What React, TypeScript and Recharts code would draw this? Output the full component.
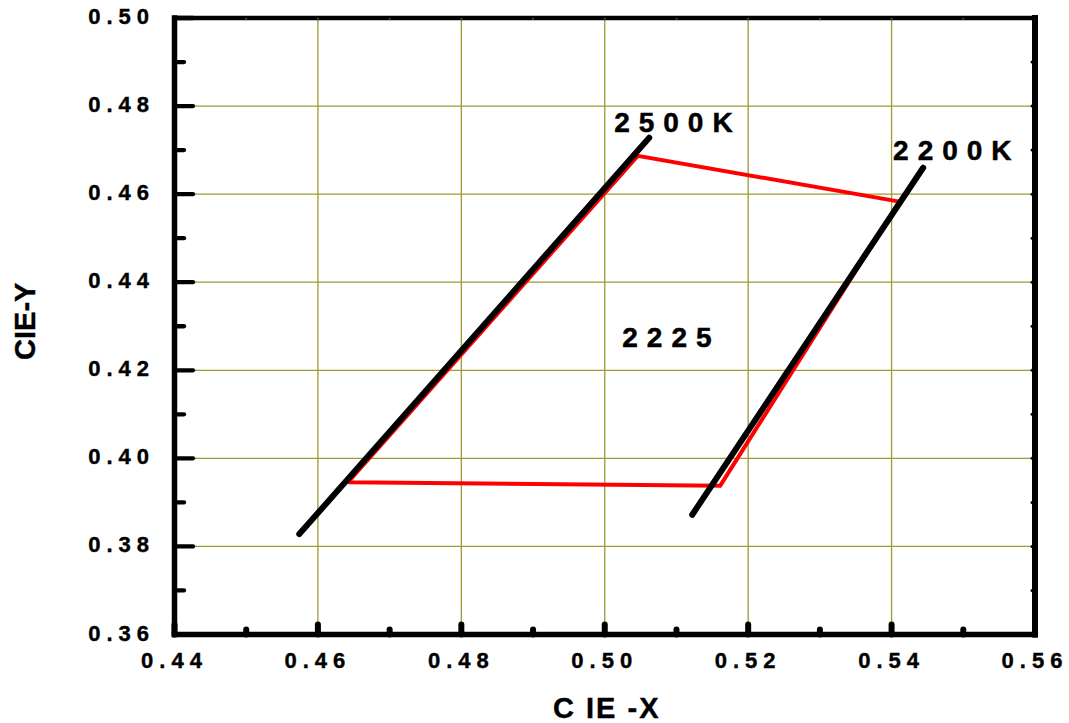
import React from 'react';
import { ComposedChart, Scatter, XAxis, YAxis, CartesianGrid } from 'recharts';

// ---- data ----
const xTicks = [0.44, 0.45, 0.46, 0.47, 0.48, 0.49, 0.5, 0.51, 0.52, 0.53, 0.54, 0.55, 0.56];
const yTicks = [0.36, 0.37, 0.38, 0.39, 0.4, 0.41, 0.42, 0.43, 0.44, 0.45, 0.46, 0.47, 0.48, 0.49, 0.5];
const xMajor = [0.44, 0.46, 0.48, 0.5, 0.52, 0.54, 0.56];
const yMajor = [0.36, 0.38, 0.4, 0.42, 0.44, 0.46, 0.48, 0.5];

const line2500K = [
  { x: 0.4574, y: 0.3828 },
  { x: 0.5062, y: 0.4728 },
];
const line2200K = [
  { x: 0.5122, y: 0.3872 },
  { x: 0.5444, y: 0.466 },
];
const redBoundary = [
  { x: 0.4642, y: 0.3946 },
  { x: 0.5046, y: 0.4687 },
  { x: 0.5411, y: 0.4583 },
  { x: 0.5161, y: 0.3938 },
  { x: 0.4642, y: 0.3946 },
];
const annotations = [
  { x: 0.5102, y: 0.4742, label: '2500K' },
  { x: 0.5491, y: 0.4678, label: '2200K' },
  { x: 0.5093, y: 0.4254, label: '2225' },
];

const FONT = '"Liberation Sans", Arial, Helvetica, sans-serif';
const GRID = '#9e9a34';

const isMajor = (v: number) => Math.round(v * 100) % 2 === 0;

const BottomTick = (props: any) => {
  const { x, y, payload } = props;
  const major = isMajor(payload.value);
  return (
    <g>
      <line x1={x} y1={y} x2={x} y2={y - (major ? 10 : 5)} stroke="#000" strokeWidth={6} strokeLinecap="round" />
      {major && (
        <text x={x} y={y + 33} textAnchor="middle" fontFamily={FONT} fontWeight="bold" fontSize={22} letterSpacing={6} fill="#000" stroke="#000" strokeWidth={0.4}>
          {payload.value.toFixed(2)}
        </text>
      )}
    </g>
  );
};

const LeftTick = (props: any) => {
  const { x, y, payload } = props;
  const major = isMajor(payload.value);
  return (
    <g>
      <line x1={x} y1={y} x2={x + (major ? 18.5 : 9.5)} y2={y} stroke="#000" strokeWidth={4.3} strokeLinecap="round" />
      {major && (
        <text x={x - 19.5} y={y + 6} textAnchor="end" fontFamily={FONT} fontWeight="bold" fontSize={22} letterSpacing={6} fill="#000" stroke="#000" strokeWidth={0.4}>
          {payload.value.toFixed(2)}
        </text>
      )}
    </g>
  );
};

const RightTick = (props: any) => {
  const { x, y } = props;
  return <line x1={x} y1={y} x2={x - 3} y2={y} stroke="#000" strokeWidth={3} strokeLinecap="round" />;
};

const TopTick = (props: any) => {
  const { x, y } = props;
  return <line x1={x} y1={y} x2={x} y2={y + 1.5} stroke="#555" strokeWidth={2} />;
};

const XTitle = (props: any) => {
  const vb = props.viewBox || {};
  return (
    <text x={vb.x + vb.width / 2 + 2} y={vb.y + 83.5} textAnchor="middle" fontFamily={FONT} fontWeight="bold" fontSize={29} letterSpacing={2} fill="#000" stroke="#000" strokeWidth={0.4}>
      C IE -X
    </text>
  );
};

const YTitle = (props: any) => {
  const vb = props.viewBox || {};
  const cx = vb.x + 35;
  const cy = vb.y + vb.height / 2 - 5;
  return (
    <text x={cx} y={cy} transform={`rotate(-90 ${cx} ${cy})`} textAnchor="middle" fontFamily={FONT} fontWeight="bold" fontSize={29} fill="#000" stroke="#000" strokeWidth={0.4}>
      CIE-Y
    </text>
  );
};

const AnnotationShape = (props: any) => {
  const { cx, cy, payload } = props;
  return (
    <text x={cx} y={cy} textAnchor="middle" fontFamily={FONT} fontWeight="bold" fontSize={28} letterSpacing={9} fill="#000" stroke="#000" strokeWidth={0.5}>
      {payload.label}
    </text>
  );
};

const NoShape = () => <g />;

export default function App() {
  return (
    <div style={{ position: 'absolute', left: 0, top: 0, background: '#fff' }}>
      <ComposedChart width={1069} height={723} margin={{ top: 17, right: 33, bottom: 28.5, left: 0 }}>
        <CartesianGrid
          xAxisId="bottom"
          yAxisId="left"
          stroke={GRID}
          strokeWidth={1.3}
          verticalValues={xMajor}
          horizontalValues={yMajor}
        />
        <XAxis
          xAxisId="top"
          orientation="top"
          type="number"
          dataKey="x"
          domain={[0.44, 0.56]}
          allowDataOverflow
          ticks={xTicks}
          interval={0}
          height={1}
          tickSize={0}
          tickMargin={0}
          tickLine={false}
          tick={<TopTick />}
          axisLine={{ stroke: '#000', strokeWidth: 4.5, strokeLinecap: 'square' }}
        />
        <XAxis
          xAxisId="bottom"
          orientation="bottom"
          type="number"
          dataKey="x"
          domain={[0.44, 0.56]}
          allowDataOverflow
          ticks={xTicks}
          interval={0}
          height={60}
          tickSize={0}
          tickMargin={0}
          tickLine={false}
          tick={<BottomTick />}
          axisLine={{ stroke: '#000', strokeWidth: 5.5, strokeLinecap: 'square' }}
          label={XTitle}
        />
        <YAxis
          yAxisId="left"
          orientation="left"
          type="number"
          dataKey="y"
          domain={[0.36, 0.5]}
          allowDataOverflow
          ticks={yTicks}
          interval={0}
          width={174.5}
          tickSize={0}
          tickMargin={0}
          tickLine={false}
          tick={<LeftTick />}
          axisLine={{ stroke: '#000', strokeWidth: 5.5, strokeLinecap: 'square' }}
          label={YTitle}
        />
        <YAxis
          yAxisId="right"
          orientation="right"
          type="number"
          dataKey="y"
          domain={[0.36, 0.5]}
          allowDataOverflow
          ticks={yTicks}
          interval={0}
          width={1}
          tickSize={0}
          tickMargin={0}
          tickLine={false}
          tick={<RightTick />}
          axisLine={{ stroke: '#000', strokeWidth: 6, strokeLinecap: 'square' }}
        />
        <Scatter
          xAxisId="top"
          yAxisId="right"
          data={redBoundary}
          shape={NoShape}
          isAnimationActive={false}
        />
        <Scatter
          xAxisId="bottom"
          yAxisId="left"
          data={redBoundary}
          line={{ stroke: '#ff0000', strokeWidth: 4, strokeLinejoin: 'miter' }}
          shape={NoShape}
          isAnimationActive={false}
        />
        <Scatter
          xAxisId="bottom"
          yAxisId="left"
          data={line2500K}
          line={{ stroke: '#000', strokeWidth: 6, strokeLinecap: 'round' }}
          shape={NoShape}
          isAnimationActive={false}
        />
        <Scatter
          xAxisId="bottom"
          yAxisId="left"
          data={line2200K}
          line={{ stroke: '#000', strokeWidth: 6, strokeLinecap: 'round' }}
          shape={NoShape}
          isAnimationActive={false}
        />
        <Scatter
          xAxisId="bottom"
          yAxisId="left"
          data={annotations}
          shape={AnnotationShape}
          isAnimationActive={false}
        />
      </ComposedChart>
    </div>
  );
}
